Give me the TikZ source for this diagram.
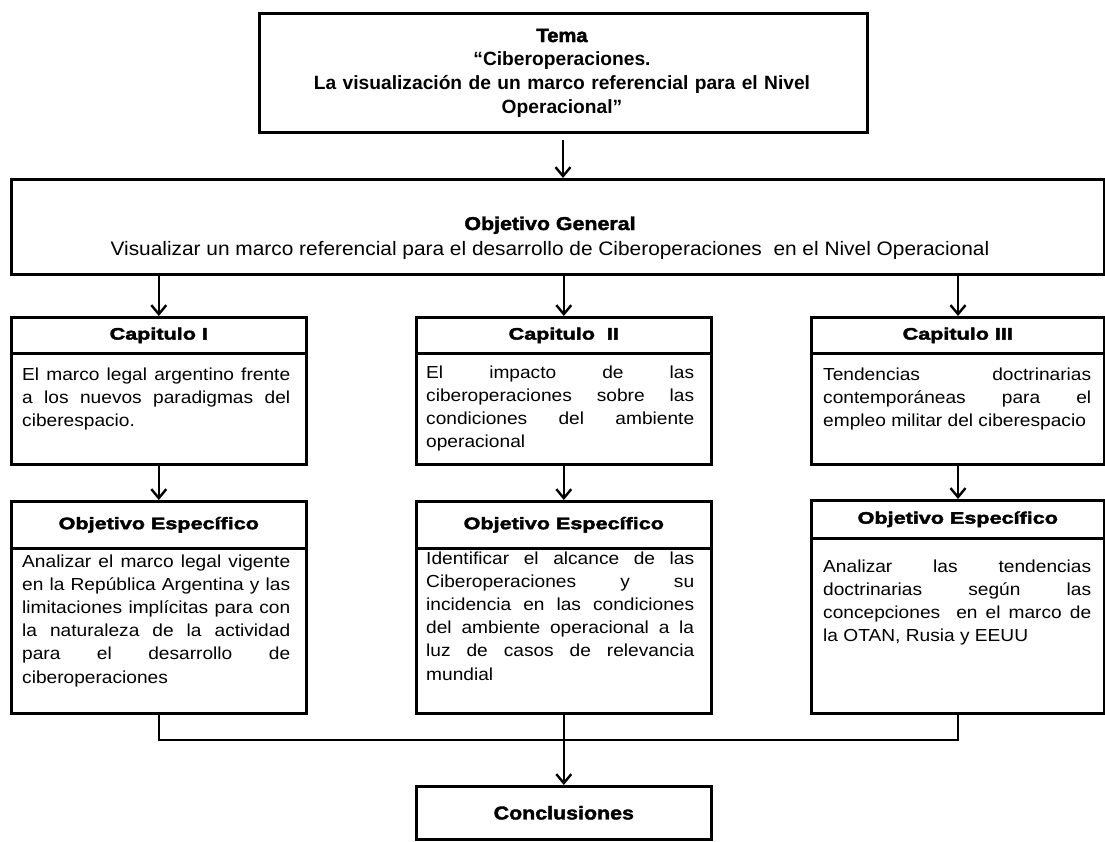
\documentclass[tikz,border=0pt]{standalone}
\usepackage{fontspec}
\setmainfont{Liberation Sans}
\newfontface\hdface{Liberation Sans Bold}[FakeBold=2.5, FakeStretch=1.3]
\newfontface\hdfaceb{Liberation Sans Bold}[FakeBold=2, FakeStretch=1.15]
\newfontface\temaface{Liberation Sans Bold}[FakeBold=2.5, FakeStretch=1.05]
\newfontface\bodyface{Liberation Sans}[FakeStretch=1.1]
\newfontface\subface{Liberation Sans}[FakeStretch=1.07]
\usetikzlibrary{arrows.meta}
\hyphenpenalty=10000
\exhyphenpenalty=10000
\tolerance=10000
\hbadness=10000
\hfuzz=20pt
\begin{document}
\begin{tikzpicture}[x=1pt,y=-1pt,
  frame/.style={draw, line width=2.6pt, anchor=north west, inner sep=0pt, rectangle},
  hd/.style={font=\fontsize{16.6}{20}\hdface},
  hdb/.style={font=\fontsize{18.6}{22}\hdfaceb},
  bodytext/.style={anchor=base west, inner sep=0pt, text width=268pt, align=justify,
    font=\fontsize{17.4}{23.2}\bodyface},
  conn/.style={line width=2.6pt, -{Straight Barb[length=9pt,width=15pt,line width=2.4pt]}},
  plainline/.style={line width=2.6pt}
]
\useasboundingbox (0,0) rectangle (1105,841);

% Tema
\node[frame, minimum width=608pt, minimum height=119pt] (tema) at (258,12) {};
\node[anchor=base, inner sep=0pt, text width=600pt, align=center,
  font=\fontsize{19.2}{23.7}\selectfont\bfseries] (tematxt) at (562,42)
  {{\temaface Tema}\\“Ciberoperaciones.\\La visualización de un marco referencial para el Nivel\\Operacional”};

% Objetivo General
\node[frame, minimum width=1093pt, minimum height=95pt] (gen) at (10,178) {};
\node[anchor=base, inner sep=0pt, hdb] (gentitle) at (550,230) {Objetivo General};
\node[anchor=base, inner sep=0pt, font=\fontsize{19.5}{23}\subface] (gensub) at (550,255)
  {Visualizar un marco referencial para el desarrollo de Ciberoperaciones\ \ en el Nivel Operacional};

% Capitulos
\node[frame, minimum width=295pt, minimum height=36pt, hd] (c1h) at (10,316) {Capitulo I};
\node[frame, minimum width=295pt, minimum height=111pt] (c1b) at (10,352) {};
\node[frame, minimum width=295pt, minimum height=36pt, hd] (c2h) at (415,316) {Capitulo\ \ II};
\node[frame, minimum width=295pt, minimum height=111pt] (c2b) at (415,352) {};
\node[frame, minimum width=293pt, minimum height=36pt, hd] (c3h) at (810,316) {Capitulo III};
\node[frame, minimum width=293pt, minimum height=111pt] (c3b) at (810,352) {};

\node[bodytext] (c1t) at (22,380) {El marco legal argentino frente\linebreak a los nuevos paradigmas del\linebreak ciberespacio.};
\node[bodytext] (c2t) at (426,378) {El impacto de las\linebreak ciberoperaciones sobre las\linebreak condiciones del ambiente\linebreak operacional};
\node[bodytext] (c3t) at (823,380) {Tendencias doctrinarias\linebreak contemporáneas para el\linebreak empleo militar del ciberespacio};

% Objetivos especificos
\node[frame, minimum width=295pt, minimum height=47pt, hd] (o1h) at (10,500) {Objetivo Específico};
\node[frame, minimum width=295pt, minimum height=165pt] (o1b) at (10,547) {};
\node[frame, minimum width=295pt, minimum height=47pt, hd] (o2h) at (415,500) {Objetivo Específico};
\node[frame, minimum width=295pt, minimum height=165pt] (o2b) at (415,547) {};
\node[frame, minimum width=293pt, minimum height=38pt, hd] (o3h) at (810,499) {Objetivo Específico};
\node[frame, minimum width=293pt, minimum height=175pt] (o3b) at (810,537) {};

\node[bodytext] (o1t) at (22,567) {Analizar el marco legal vigente\linebreak en la República Argentina y las\linebreak limitaciones implícitas para con\linebreak la naturaleza de la actividad\linebreak para el desarrollo de\linebreak ciberoperaciones};
\node[bodytext] (o2t) at (426,564) {Identificar el alcance de las\linebreak Ciberoperaciones y su\linebreak incidencia en las condiciones\linebreak del ambiente operacional a la\linebreak luz de casos de relevancia\linebreak mundial};
\node[bodytext] (o3t) at (823,572) {Analizar las tendencias\linebreak doctrinarias según las\linebreak concepciones\ \ en el marco de\linebreak la OTAN, Rusia y EEUU};

% Conclusiones
\node[frame, minimum width=295pt, minimum height=53pt, hdb] (concl) at (415,785) {Conclusiones};

% Connectors
\coordinate (tstart) at (563,140);
\draw[conn] (tstart) -- (gen.north -| tstart);
\draw[conn] (gen.south -| c1h.north) -- (c1h.north);
\draw[conn] (gen.south -| c2h.north) -- (c2h.north);
\draw[conn] (gen.south -| 958,0) -- (c3h.north -| 958,0);
\draw[conn] (c1b.south) -- (o1h.north);
\draw[conn] (c2b.south) -- (o2h.north);
\draw[conn] (c3b.south -| 958,0) -- (o3h.north -| 958,0);
\coordinate (bus) at (0,740);
\draw[plainline] (o1b.south) -- (o1b.south |- bus) -- (bus -| 958,0) -- (o3b.south -| 958,0);
\draw[conn] (o2b.south) -- (concl.north);
\end{tikzpicture}
\end{document}
